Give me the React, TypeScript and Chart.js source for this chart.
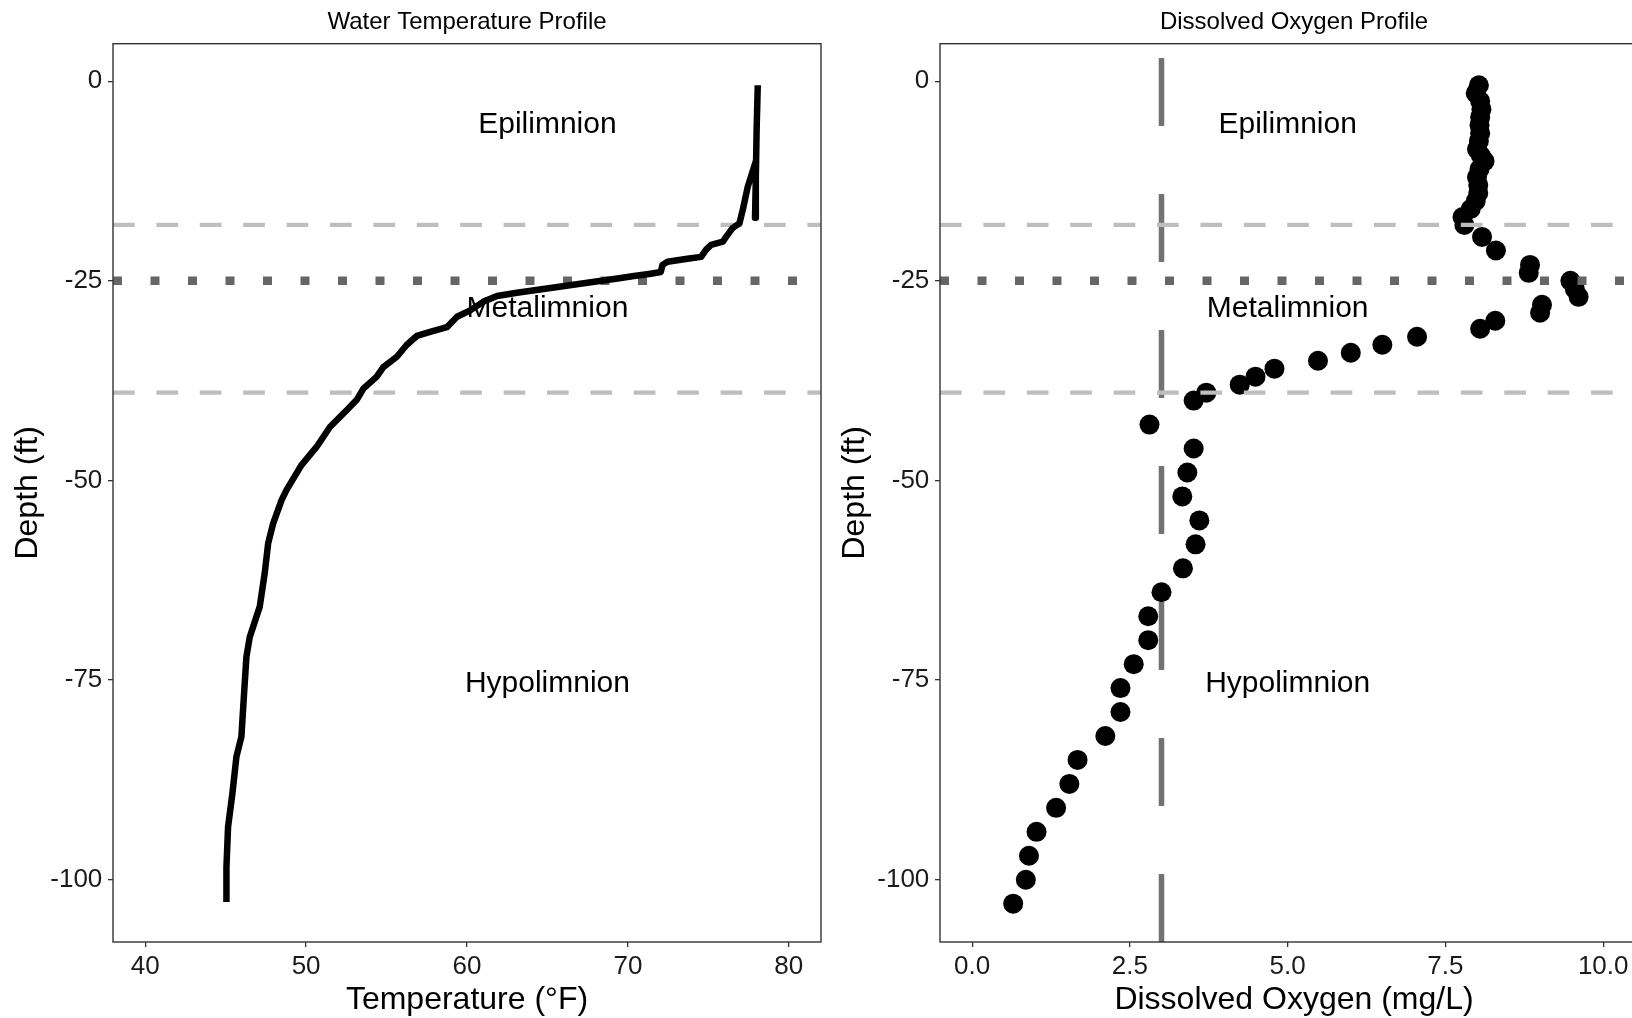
import React, { useEffect, useRef } from 'react';
import { Chart, registerables } from 'chart.js';

Chart.register(...registerables);

const FONT = "'Liberation Sans', Arial, Helvetica, sans-serif";

// ---- Water temperature profile (points in the order the line is drawn) ----
const tempF = [
  45.05, 45.05, 45.15, 45.42, 45.67, 45.98, 46.12, 46.29, 46.5, 47.12,
  47.43, 47.64, 47.95, 48.47, 48.78, 49.7, 50.65, 51.48, 52.52, 53.15,
  53.56, 54.39, 54.8, 55.64, 56.26, 56.88, 57.71, 58.75, 59.38, 60.2,
  61.03, 61.87, 63.1, 65.19, 67.26, 69.35, 70.38, 71.42, 72.04, 72.15,
  72.46, 73.8, 74.55, 74.86, 75.17, 75.9, 76.1, 76.5, 76.93, 77.14,
  77.45, 77.97, 77.9, 77.95, 78.0, 78.07,
];
const tempDepthFt = [
  -102.8, -98.4, -93.4, -89.2, -84.6, -82.1, -77.5, -72.1, -69.6, -65.8,
  -61.6, -57.9, -55.4, -52.5, -51.2, -48.1, -45.8, -43.3, -41.2, -39.9,
  -38.5, -37.0, -35.8, -34.5, -33.0, -31.9, -31.4, -30.8, -29.5, -28.7,
  -27.6, -26.9, -26.5, -25.9, -25.3, -24.7, -24.4, -24.1, -23.9, -23.0,
  -22.6, -22.2, -22.0, -21.1, -20.5, -20.1, -19.5, -18.4, -17.8, -16.1,
  -13.2, -9.9, -17.1, -12.0, -6.0, -0.5,
];

// ---- Dissolved oxygen profile ----
const doMgL = [
  8.03, 7.98, 8.05, 8.07, 8.05, 8.04, 8.05, 8.03, 8.0, 8.06,
  8.12, 8.04, 8.0, 8.02, 8.02, 7.98, 7.9, 7.77, 7.8, 8.08,
  8.3, 8.84, 8.82, 9.48, 9.55, 9.61, 9.03, 9.0, 8.29, 8.05,
  7.05, 6.5, 6.0, 5.48, 4.79, 4.49, 4.24, 3.71, 3.51, 2.81,
  3.51, 3.41, 3.33, 3.6, 3.54, 3.34, 3.0, 2.79, 2.79, 2.56,
  2.35, 2.35, 2.11, 1.67, 1.54, 1.33, 1.02, 0.9, 0.85, 0.65,
];
const doDepthFt = [
  -0.5, -1.5, -2.5, -3.5, -4.5, -5.5, -6.5, -7.5, -8.5, -9.3,
  -10.0, -11.0, -12.0, -13.0, -14.0, -15.0, -16.0, -17.0, -18.0, -19.5,
  -21.2, -23.0, -24.0, -25.0, -26.0, -27.0, -28.0, -29.0, -30.0, -31.0,
  -32.0, -33.0, -34.0, -35.0, -36.0, -37.0, -38.0, -39.0, -40.0, -43.0,
  -46.0, -49.0, -52.0, -55.0, -58.0, -61.0, -64.0, -67.0, -70.0, -73.0,
  -76.0, -79.0, -82.0, -85.0, -88.0, -91.0, -94.0, -97.0, -100.0, -103.0,
];

// ---- Axes ----
const depthTicks = [0, -25, -50, -75, -100];
const tempTicks = [40, 50, 60, 70, 80];
const doTicks = [0, 2.5, 5, 7.5, 10];
const depthRange = [-107.8, 4.7];
const tempRange = [38, 82];
const doRange = [-0.51, 10.71];

// ---- Reference lines & zone labels ----
const boundaryDepths = [-18, -39];
const thermoclineDepth = -25;
const doThreshold = 3;
const zoneNames = ['Epilimnion', 'Metalimnion', 'Hypolimnion'];
const zoneDepths = [-5, -28, -75];
const zoneLabelTemp = 65;
const zoneLabelDO = 5;

const framePlugin = {
  id: 'panelFrame',
  afterDraw(chart: any) {
    const { ctx, chartArea } = chart;
    const { left, top, right, bottom } = chartArea;
    ctx.save();
    ctx.strokeStyle = '#333333';
    ctx.lineWidth = 1.4;
    ctx.strokeRect(left, top, right - left, bottom - top);
    ctx.restore();
  },
};

const zoneLabelPlugin = {
  id: 'zoneLabels',
  beforeDatasetsDraw(chart: any, _args: any, opts: any) {
    const { ctx, scales } = chart;
    if (!opts || !opts.names) return;
    ctx.save();
    ctx.font = `30px ${FONT}`;
    ctx.fillStyle = '#000000';
    ctx.textAlign = 'center';
    ctx.textBaseline = 'middle';
    opts.names.forEach((name: string, i: number) => {
      ctx.fillText(
        name,
        scales.x.getPixelForValue(opts.x),
        scales.y.getPixelForValue(opts.depths[i]) + 3.5,
      );
    });
    ctx.restore();
  },
};

function refLineDatasets(xMin: number, xMax: number, vertical: number | null) {
  const sets: any[] = [];
  boundaryDepths.forEach((d) => {
    sets.push({
      data: [{ x: xMin, y: d }, { x: xMax, y: d }],
      showLine: true,
      borderColor: '#BEBEBE',
      borderWidth: 4.3,
      borderDash: [21.7, 21.7],
      borderCapStyle: 'butt',
      pointRadius: 0,
    });
  });
  sets.push({
    data: [{ x: xMin, y: thermoclineDepth }, { x: xMax, y: thermoclineDepth }],
    showLine: true,
    borderColor: '#666666',
    borderWidth: 8.5,
    borderDash: [9, 28.5],
    borderCapStyle: 'butt',
    pointRadius: 0,
  });
  if (vertical !== null) {
    sets.push({
      data: [{ x: vertical, y: depthRange[0] }, { x: vertical, y: depthRange[1] }],
      showLine: true,
      borderColor: '#737373',
      borderWidth: 5.5,
      borderDash: [68, 68],
      borderCapStyle: 'butt',
      pointRadius: 0,
    });
  }
  return sets;
}

function axisCommon() {
  return {
    grid: { display: true, drawOnChartArea: false, drawTicks: true, tickLength: 5, color: '#333333', lineWidth: 1.3 },
    border: { display: false },
  };
}

function makeConfig(kind: 'temp' | 'do'): any {
  const isTemp = kind === 'temp';
  const xRange = isTemp ? tempRange : doRange;
  const xTicks = isTemp ? tempTicks : doTicks;
  const refs = refLineDatasets(xRange[0], xRange[1], isTemp ? null : doThreshold);
  let datasets: any[];
  if (isTemp) {
    const line = {
      data: tempF.map((t, i) => ({ x: t, y: tempDepthFt[i] })),
      showLine: true,
      borderColor: '#000000',
      borderWidth: 6.5,
      borderCapStyle: 'butt',
      borderJoinStyle: 'round',
      pointRadius: 0,
      tension: 0,
    };
    datasets = [line, ...refs];
  } else {
    const pts = {
      data: doMgL.map((v, i) => ({ x: v, y: doDepthFt[i] })),
      showLine: false,
      backgroundColor: '#000000',
      borderWidth: 0,
      pointRadius: 10,
    };
    datasets = [...refs, pts];
  }
  return {
    type: 'scatter',
    data: { datasets },
    plugins: [framePlugin, zoneLabelPlugin],
    options: {
      responsive: false,
      animation: false,
      devicePixelRatio: 1,
      events: [],
      layout: { padding: { left: 0, right: 39, top: 0, bottom: 0 } },
      plugins: {
        legend: { display: false },
        tooltip: { enabled: false },
        title: {
          display: true,
          text: isTemp ? 'Water Temperature Profile' : 'Dissolved Oxygen Profile',
          color: '#000000',
          font: { family: FONT, size: 24, weight: 'normal' },
          padding: { top: 8.4, bottom: 6.5 },
          fullSize: false,
        },
        zoneLabels: {
          names: zoneNames,
          depths: zoneDepths,
          x: isTemp ? zoneLabelTemp : zoneLabelDO,
        },
      },
      scales: {
        x: {
          type: 'linear',
          min: xRange[0],
          max: xRange[1],
          ...axisCommon(),
          afterBuildTicks: (s: any) => {
            s.ticks = xTicks.map((v) => ({ value: v }));
          },
          afterFit: (s: any) => {
            s.height = 76;
          },
          ticks: {
            autoSkip: false,
            maxRotation: 0,
            padding: 3.8,
            color: '#1a1a1a',
            font: { family: FONT, size: 26 },
            callback: (v: any) => (isTemp ? String(v) : Number(v).toFixed(1)),
          },
          title: {
            display: true,
            text: isTemp ? 'Temperature (°F)' : 'Dissolved Oxygen (mg/L)',
            color: '#000000',
            font: { family: FONT, size: 32, lineHeight: 1.1 },
            padding: { top: 0, bottom: 0 },
          },
        },
        y: {
          type: 'linear',
          min: depthRange[0],
          max: depthRange[1],
          ...axisCommon(),
          afterBuildTicks: (s: any) => {
            s.ticks = depthTicks.map((v) => ({ value: v }));
          },
          afterFit: (s: any) => {
            s.width = 113;
          },
          ticks: {
            autoSkip: false,
            padding: 5.7,
            color: '#1a1a1a',
            font: { family: FONT, size: 26 },
            callback: (v: any) => String(v),
          },
          title: {
            display: true,
            text: 'Depth (ft)',
            color: '#000000',
            font: { family: FONT, size: 32 },
            padding: { top: 9, bottom: 0 },
          },
        },
      },
    },
  };
}

export default function App() {
  const leftRef = useRef<HTMLCanvasElement | null>(null);
  const rightRef = useRef<HTMLCanvasElement | null>(null);

  useEffect(() => {
    Chart.defaults.font.family = FONT;
    const c1 = new Chart(leftRef.current as HTMLCanvasElement, makeConfig('temp'));
    const c2 = new Chart(rightRef.current as HTMLCanvasElement, makeConfig('do'));
    return () => {
      c1.destroy();
      c2.destroy();
    };
  }, []);

  return (
    <div
      style={{
        position: 'fixed',
        left: 0,
        top: 0,
        width: 1632,
        height: 1018,
        overflow: 'hidden',
        background: '#ffffff',
      }}
    >
      <canvas
        ref={leftRef}
        width={860}
        height={1018}
        style={{ position: 'absolute', left: 0, top: 0, width: 860, height: 1018, display: 'block' }}
      />
      <canvas
        ref={rightRef}
        width={860}
        height={1018}
        style={{ position: 'absolute', left: 827, top: 0, width: 860, height: 1018, display: 'block' }}
      />
    </div>
  );
}
